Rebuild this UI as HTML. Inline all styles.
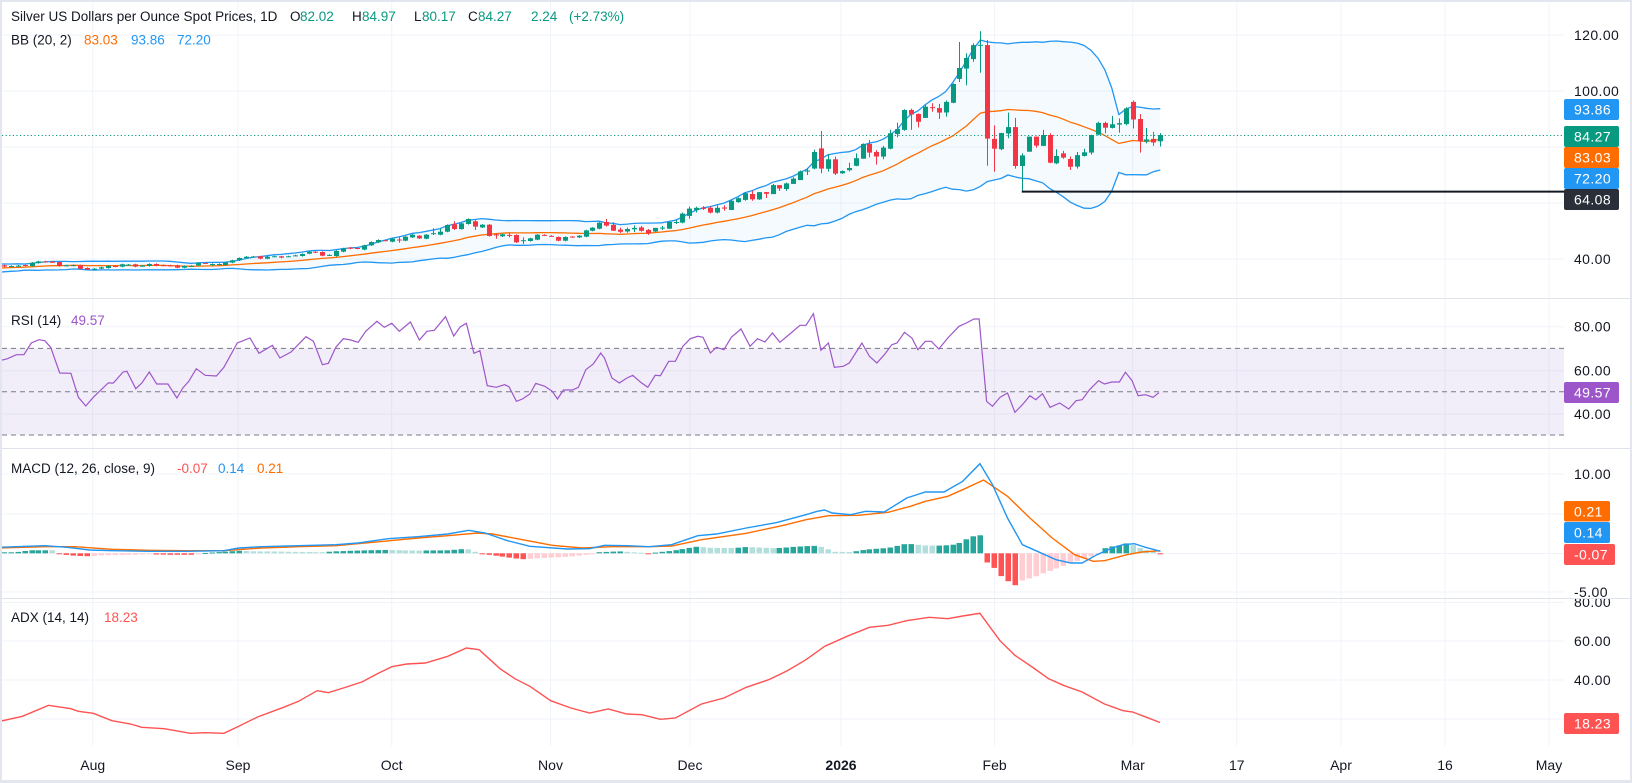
<!DOCTYPE html>
<html><head><meta charset="utf-8">
<style>
html,body{margin:0;padding:0;}
body{width:1632px;height:783px;overflow:hidden;background:#e3e6ee;}
svg{position:absolute;left:0;top:0;}
.t{font-family:"Liberation Sans",Arial,sans-serif;font-size:14px;fill:#131722;}
.lg{font-family:"Liberation Sans",Arial,sans-serif;font-size:13.5px;fill:#131722;}
.ax{font-family:"Liberation Sans",Arial,sans-serif;font-size:14px;fill:#131722;letter-spacing:0.4px;}
.bw{font-family:"Liberation Sans",Arial,sans-serif;font-size:14px;fill:#ffffff;letter-spacing:0.4px;}
</style></head><body>
<svg width="1632" height="783" viewBox="0 0 1632 783">
<defs>
<clipPath id="c1"><rect x="2" y="2" width="1562" height="296"/></clipPath>
<clipPath id="c2"><rect x="2" y="298" width="1562" height="150"/></clipPath>
<clipPath id="c3"><rect x="2" y="448" width="1562" height="150"/></clipPath>
<clipPath id="c4"><rect x="2" y="598" width="1562" height="148"/></clipPath>
<clipPath id="c5"><rect x="1564" y="599" width="66" height="40"/></clipPath>
</defs>
<rect x="2" y="2" width="1628" height="778" fill="#ffffff"/>
<g stroke="#f0f3fa" stroke-width="1">
<line x1="92.7" y1="2" x2="92.7" y2="746"/>
<line x1="238" y1="2" x2="238" y2="746"/>
<line x1="391.7" y1="2" x2="391.7" y2="746"/>
<line x1="550.5" y1="2" x2="550.5" y2="746"/>
<line x1="690" y1="2" x2="690" y2="746"/>
<line x1="841" y1="2" x2="841" y2="746"/>
<line x1="994.6" y1="2" x2="994.6" y2="746"/>
<line x1="1132.7" y1="2" x2="1132.7" y2="746"/>
<line x1="1236.8" y1="2" x2="1236.8" y2="746"/>
<line x1="1341" y1="2" x2="1341" y2="746"/>
<line x1="1445" y1="2" x2="1445" y2="746"/>
<line x1="1549" y1="2" x2="1549" y2="746"/>
</g>
<g stroke="#f0f3fa" stroke-width="1">
<line x1="2" y1="35" x2="1564" y2="35"/>
<line x1="2" y1="91" x2="1564" y2="91"/>
<line x1="2" y1="147" x2="1564" y2="147"/>
<line x1="2" y1="203" x2="1564" y2="203"/>
<line x1="2" y1="259" x2="1564" y2="259"/>
<line x1="2" y1="326.7" x2="1564" y2="326.7"/>
<line x1="2" y1="370.7" x2="1564" y2="370.7"/>
<line x1="2" y1="414" x2="1564" y2="414"/>
<line x1="2" y1="474" x2="1564" y2="474"/>
<line x1="2" y1="514" x2="1564" y2="514"/>
<line x1="2" y1="553.5" x2="1564" y2="553.5"/>
<line x1="2" y1="592" x2="1564" y2="592"/>
<line x1="2" y1="602.5" x2="1564" y2="602.5"/>
<line x1="2" y1="641" x2="1564" y2="641"/>
<line x1="2" y1="680" x2="1564" y2="680"/>
<line x1="2" y1="719" x2="1564" y2="719"/>
</g>
<rect x="2" y="348.4" width="1562" height="86.6" fill="#7E57C2" fill-opacity="0.1"/>
<g stroke="#787B86" stroke-width="1" stroke-dasharray="5,4">
<line x1="2" y1="348.4" x2="1564" y2="348.4"/>
<line x1="2" y1="391.7" x2="1564" y2="391.7"/>
<line x1="2" y1="435" x2="1564" y2="435"/>
</g>
<g stroke="#e0e3eb" stroke-width="1">
<line x1="2" y1="298.5" x2="1630" y2="298.5"/>
<line x1="2" y1="448.5" x2="1630" y2="448.5"/>
<line x1="2" y1="598.5" x2="1630" y2="598.5"/>
</g>
<g id="g1" clip-path="url(#c1)"></g>
<g id="g2" clip-path="url(#c2)"></g>
<g id="g3" clip-path="url(#c3)"></g>
<g id="g4" clip-path="url(#c4)"></g>

<text class="lg" x="11" y="21">Silver US Dollars per Ounce Spot Prices, 1D</text>
<text class="lg" x="290" y="21">O</text><text class="lg" x="300" y="21" style="fill:#089981">82.02</text>
<text class="lg" x="352" y="21">H</text><text class="lg" x="362" y="21" style="fill:#089981">84.97</text>
<text class="lg" x="414" y="21">L</text><text class="lg" x="422" y="21" style="fill:#089981">80.17</text>
<text class="lg" x="468" y="21">C</text><text class="lg" x="478" y="21" style="fill:#089981">84.27</text>
<text class="lg" x="531" y="21" style="fill:#089981">2.24</text>
<text class="lg" x="569" y="21" style="fill:#089981">(+2.73%)</text>
<text class="lg" x="11" y="44.5">BB (20, 2)</text>
<text class="lg" x="84" y="44.5" style="fill:#FF6D00">83.03</text>
<text class="lg" x="131" y="44.5" style="fill:#2196F3">93.86</text>
<text class="lg" x="177" y="44.5" style="fill:#2196F3">72.20</text>

<text class="lg" x="11" y="325">RSI (14)</text>
<text class="lg" x="71" y="325" style="fill:#9D56C9">49.57</text>

<text class="lg" x="11" y="473">MACD (12, 26, close, 9)</text>
<text class="lg" x="177" y="473" style="fill:#FF5252">-0.07</text>
<text class="lg" x="218" y="473" style="fill:#2196F3">0.14</text>
<text class="lg" x="257" y="473" style="fill:#FF6D00">0.21</text>

<text class="lg" x="11" y="622">ADX (14, 14)</text>
<text class="lg" x="104" y="622" style="fill:#FF5252">18.23</text>

<text class="ax" x="1574" y="40">120.00</text>
<text class="ax" x="1574" y="96">100.00</text>
<text class="ax" x="1574" y="264">40.00</text>
<text class="ax" x="1574" y="331.7">80.00</text>
<text class="ax" x="1574" y="375.7">60.00</text>
<text class="ax" x="1574" y="419">40.00</text>
<text class="ax" x="1574" y="479">10.00</text>
<text class="ax" x="1574" y="597">-5.00</text>
<g clip-path="url(#c5)"><text class="ax" x="1574" y="607">80.00</text></g>
<text class="ax" x="1574" y="646">60.00</text>
<text class="ax" x="1574" y="685">40.00</text>

<rect x="1564" y="99" width="55" height="21" rx="2" fill="#2196F3"/><text class="bw" x="1574" y="114.5">93.86</text>
<rect x="1564" y="126" width="55" height="21" rx="2" fill="#089981"/><text class="bw" x="1574" y="141.5">84.27</text>
<rect x="1564" y="147" width="55" height="21" rx="2" fill="#FF6D00"/><text class="bw" x="1574" y="162.5">83.03</text>
<rect x="1564" y="168" width="55" height="21" rx="2" fill="#2196F3"/><text class="bw" x="1574" y="183.5">72.20</text>
<rect x="1564" y="189" width="55" height="21" rx="2" fill="#2A2E39"/><text class="bw" x="1574" y="204.5">64.08</text>
<rect x="1564" y="382" width="55" height="21" rx="2" fill="#9D56C9"/><text class="bw" x="1574" y="397.5">49.57</text>
<rect x="1564" y="501" width="46" height="20.5" rx="2" fill="#FF6D00"/><text class="bw" x="1574" y="516.3">0.21</text>
<rect x="1564" y="522" width="46" height="21" rx="2" fill="#2196F3"/><text class="bw" x="1574" y="537.5">0.14</text>
<rect x="1564" y="544" width="51" height="21" rx="2" fill="#FF5252"/><text class="bw" x="1574" y="559.5">-0.07</text>
<rect x="1564" y="713" width="55" height="21" rx="2" fill="#FF5252"/><text class="bw" x="1574" y="728.5">18.23</text>

<g>
<text x="92.7" y="770" text-anchor="middle" class="t">Aug</text>
<text x="238" y="770" text-anchor="middle" class="t">Sep</text>
<text x="391.7" y="770" text-anchor="middle" class="t">Oct</text>
<text x="550.5" y="770" text-anchor="middle" class="t">Nov</text>
<text x="690" y="770" text-anchor="middle" class="t">Dec</text>
<text x="841" y="770" text-anchor="middle" class="t" style="font-weight:bold">2026</text>
<text x="994.6" y="770" text-anchor="middle" class="t">Feb</text>
<text x="1132.7" y="770" text-anchor="middle" class="t">Mar</text>
<text x="1236.8" y="770" text-anchor="middle" class="t">17</text>
<text x="1341" y="770" text-anchor="middle" class="t">Apr</text>
<text x="1445" y="770" text-anchor="middle" class="t">16</text>
<text x="1549" y="770" text-anchor="middle" class="t">May</text>
</g>
</svg>
<script>
(function(){
const N=168,X0=1160.3,DX=6.925;
const bx=i=>X0-(N-1-i)*DX;
const py=p=>371-2.8*p;
const D=[
[37.74,37.26],[37.3,37.5],[37.5,37.62],[37.85,37.62],[37.5,38.69],[38.57,39.16],[39.16,38.92],[39.0,38.85],[38.92,37.5],[37.6,37.74],
[37.7,37.8],[37.74,36.54],[36.78,36.19],[36.4,36.54],[36.54,37.02],[36.78,37.5],[37.5,37.26],[37.26,38.09],[37.9,38.0],[38.09,37.26],
[37.5,37.62],[37.5,38.2],[38.2,37.62],[37.8,37.74],[37.7,37.62],[37.74,36.9],[36.9,37.5],[37.45,37.55],[37.74,38.57],[38.6,38.5],
[37.8,38.2],[38.0,38.2],[37.85,38.8],[38.69,39.52],[39.52,40.35],[40.35,40.83],[40.8,40.9],[40.95,40.12],[40.12,40.83],[40.9,40.95],
[40.95,40.47],[40.9,40.95],[41.2,41.3],[41.07,41.78],[41.9,42.61],[42.61,42.38],[42.5,41.19],[41.35,41.45],[41.07,42.85],[42.61,43.8],
[44.04,43.69],[43.92,43.69],[43.33,44.88],[44.88,46.07],[45.95,46.78],[46.7,46.6],[46.19,47.26],[46.95,46.85,47.73,45.83],[46.54,47.97],[47.73,48.69],
[48.33,47.38],[47.26,48.69],[49.1,49.2,50.95,48.57],[48.69,49.76,50.95,48.5],[49.76,52.14],[52.38,50.71,53.45,50.35],[50.71,52.73],[52.5,54.28],[53.45,51.54,53.9,50.35],[51.3,52.26],
[52.26,48.21],[48.75,48.6,49.16,47.26],[48.09,48.81],[48.6,48.5,49.16,47.73],[48.57,45.95],[46.6,46.7,47.73,45.35],[46.42,47.38],[46.9,48.69],[48.6,48.5],[48.3,48.2],
[47.85,46.54],[46.54,47.85],[48.0,47.9],[47.73,48.33],[47.97,50.23],[50.12,51.19],[50.83,52.97],
[53.2,51.9,54.3,51.6],[52.2,50.1,53.1,50.0],[50.5,49.7,51.2,49.3],[49.8,50.7,51.2,49.4],[50.6,51.1,52.0,49.6],[51.3,50.1,51.8,49.8],[50.4,49.2,50.7,48.6],[49.8,51.1,51.1,49.6],[50.9,51.2,51.8,50.4],[50.8,53.2,53.5,50.7],
[53.0,53.2,53.9,52.5],[53.0,56.2,56.6,52.7],[55.4,58.0,58.7,54.4],[57.5,58.3,58.7,56.6],[58.4,57.9,58.9,57.5],[58.3,56.6,58.7,56.3],[56.6,58.3,59.2,56.3],[58.4,58.0,59.2,57.2],[57.5,60.8,61.1,57.5],[60.3,61.7,62.0,60.1],
[61.1,63.5,63.9,60.8],[63.2,61.3,64.4,60.8],[61.3,63.9,63.9,61.1],[63.9,63.3,63.9,61.8],[63.2,66.4,66.8,63.2],[66.4,65.2,66.4,64.3],[65.0,67.0,67.3,64.4],[66.8,68.7,69.2,66.8],[68.2,71.3,71.6,68.2],[71.2,71.6,72.5,70.0],
[72.3,78.2,79.0,72.0],[79.5,72.3,85.7,70.6],[72.2,75.6,77.5,71.2],[75.6,70.5,76.6,70.0],[70.6,71.4,71.6,70.4],[71.7,72.5,74.4,71.3],[73.3,76.0,77.7,73.1],
[75.8,81.1,81.3,75.8],[81.1,78.0,82.5,76.3],[78.2,76.6,78.9,73.7],[76.6,79.8,80.4,75.6],[79.4,84.9,86.1,79.2],[84.6,86.4,88.7,83.5],[86.1,93.2,93.5,85.8],[93.2,91.6,93.7,86.1],[91.8,89.0,92.0,87.0],[90.4,94.4,95.0,90.4],
[94.2,94.0,95.6,92.6],[93.9,92.3,95.4,90.0],[92.3,96.1,96.6,90.8],[95.8,102.5,102.7,95.6],[104.3,108.2,117.5,103.2],[108.0,111.8,113.5,102.0],[111.4,116.4,117.0,110.4],[116.3,116.5,121.4,106.5],[116.4,83.0,118.2,73.3],[82.9,79.4,87.7,71.2],
[79.2,85.0,85.1,78.9],[84.8,87.1,92.3,83.1],[87.1,73.2,90.4,72.3],[73.2,77.0,77.7,64.08],[78.3,83.7,83.7,78.3],[83.7,80.5,83.7,79.7],[80.4,84.3,86.1,80.4],[84.3,74.4,84.9,74.2],[74.2,76.8,79.2,73.9],[77.7,76.2,78.6,75.8],
[75.7,72.9,76.6,71.8],[73.0,77.1,78.2,72.3],[76.8,78.1,79.4,76.6],[78.0,84.3,84.4,77.3],[84.4,88.6,89.0,84.2],[88.6,86.9,89.0,84.9],[86.8,88.1,91.1,86.6],[88.0,88.5,90.2,85.1],[88.2,93.8,94.2,87.7],[96.1,89.8,96.6,86.6],
[90.0,82.0,91.8,78.0],[82.0,82.7,86.8,81.3],[82.9,81.6,85.4,80.4],[82.02,84.27,84.97,80.17]
];
const f=v=>v.toFixed(1);
const pts=a=>a.map(p=>f(p[0])+','+f(p[1])).join(' ');
let s='';
const pre=[35.21,35.62,36.02,35.48,36.16,36.56,36.02,36.84,37.24,36.7,36.29,36.97,37.51,37.11,36.56,37.38,37.78,37.38,37.92,37.65];
const cl=pre.concat(D.map(d=>d[1]));
let up=[],lo=[],mid=[];
for(let k=19;k<cl.length;k++){
  const w=cl.slice(k-19,k+1);
  const m=w.reduce((a,b)=>a+b,0)/20;
  const v=w.reduce((a,b)=>a+(b-m)*(b-m),0)/20;
  const sd=Math.sqrt(v);
  const x=bx(k-20);
  up.push([x,py(m+2*sd)]);lo.push([x,py(m-2*sd)]);mid.push([x,py(m)]);
}
s+='<polygon points="'+pts(up)+' '+pts(lo.slice().reverse())+'" fill="#2196F3" fill-opacity="0.05"/>';
s+='<polyline points="'+pts(up)+'" fill="none" stroke="#2196F3" stroke-width="1.3"/>';
s+='<polyline points="'+pts(lo)+'" fill="none" stroke="#2196F3" stroke-width="1.3"/>';
s+='<polyline points="'+pts(mid)+'" fill="none" stroke="#FF6D00" stroke-width="1.3"/>';
s+='<line x1="2" y1="135.5" x2="1564" y2="135.5" stroke="#089981" stroke-width="1" stroke-dasharray="1.2,2.4"/>';
D.forEach((d,i)=>{
  const o=d[0],c=d[1];
  const h=d.length>2?d[2]:Math.max(o,c)+0.22;
  const l=d.length>3?d[3]:Math.min(o,c)-0.22;
  const x=bx(i);
  const col=c>=o?'#089981':'#F23645';
  const yt=py(Math.max(o,c)),yb=py(Math.min(o,c));
  const xr=Math.round(x);
  s+='<line x1="'+(xr+0.5)+'" y1="'+f(py(h))+'" x2="'+(xr+0.5)+'" y2="'+f(py(l))+'" stroke="'+col+'" stroke-width="1"/>';
  s+='<rect x="'+(xr-2)+'" y="'+f(yt)+'" width="5" height="'+f(Math.max(1,yb-yt))+'" fill="'+col+'"/>';
});
s+='<line x1="'+f(bx(147))+'" y1="191.6" x2="1564" y2="191.6" stroke="#131722" stroke-width="2"/>';
document.getElementById('g1').innerHTML=s;

const R=[[0,188],[10,182],[22,170],[32,170],[42,135],[52,125],[60,128],[68,148],[80,225],[95,226],[105,298],[115,324],[125,298],[145,255],[152,255],[165,222],[170,220],[182,272],[190,255],[200,222],[210,258],[225,258],[237,300],[245,270],[253,250],[263,212],[275,232],[290,234],[300,208],[318,135],[335,120],[347,166],[365,142],[375,180],[390,162],[410,116],[420,130],[432,200],[440,196],[450,148],[460,122],[470,126],[480,133],[490,100],[505,70],[515,88],[525,76],[535,100],[550,72],[562,126],[572,100],[582,97],[597,56],[608,114],[617,86],[625,76],[635,166],[643,158],[653,263],[665,268],[676,260],[682,266],[692,310],[700,303],[710,288],[718,256],[730,265],[740,280],[747,303],[755,276],[767,276],[775,268],[785,215],[795,198],[805,165],[810,180],[820,240],[830,255],[840,240],[848,232],[858,252],[868,268],[878,232],[885,233],[896,190],[905,190],[915,145],[925,122],[935,115],[942,118],[952,165],[960,148],[970,155],[980,118],[993,93],[1005,145],[1015,122],[1025,132],[1035,105],[1045,133],[1060,105],[1072,82],[1080,82],[1090,47],[1100,157],[1110,135],[1118,208],[1130,205],[1138,195],[1155,135],[1165,175],[1175,195],[1185,170],[1195,140],[1202,135],[1212,103],[1222,120],[1230,155],[1240,130],[1248,130],[1258,153],[1270,120],[1285,85],[1295,75],[1305,63],[1312,63],[1322,310],[1330,325],[1340,298],[1350,285],[1360,343],[1370,320],[1380,293],[1388,305],[1397,287],[1407,328],[1420,315],[1432,333],[1442,308],[1450,305],[1460,275],[1472,248],[1480,258],[1490,252],[1500,252],[1508,223],[1517,248],[1525,293],[1535,290],[1545,298],[1553,284]];
document.getElementById('g2').innerHTML='<polyline points="'+pts(R.map(p=>[p[0]/1.34,298+p[1]/3]))+'" fill="none" stroke="#9D56C9" stroke-width="1.2"/>';

const B=[[0,298],[60,293],[90,298],[120,306],[150,308],[200,310],[250,310],[300,308],[320,300],[350,296],[400,293],[450,290],[480,285],[520,272],[560,266],[600,258],[628,247],[650,255],[680,278],[710,295],[760,303],[790,302],[810,292],[840,293],[870,296],[900,290],[935,263],[960,258],[1000,240],[1040,224],[1080,200],[1095,190],[1105,186],[1115,195],[1140,200],[1160,190],[1185,192],[1215,150],[1240,132],[1265,132],[1290,100],[1313,47],[1330,110],[1350,210],[1370,290],[1390,310],[1415,335],[1435,345],[1450,345],[1470,320],[1490,300],[1505,290],[1520,287],[1535,298],[1555,310]];
const O=[[0,300],[60,296],[100,296],[150,304],[200,307],[250,308],[300,308],[350,300],[400,296],[450,293],[500,283],[560,270],[600,263],[640,255],[660,258],[700,275],[740,292],[780,300],[820,296],[870,296],[900,294],[940,275],[1000,256],[1050,232],[1080,215],[1110,203],[1150,202],[1190,193],[1220,175],[1240,160],[1270,145],[1290,125],[1318,96],[1350,145],[1380,210],[1410,270],[1440,320],[1465,340],[1480,338],[1510,320],[1530,312],[1555,308]];
const HC=[[0,1],[20,1],[40,3],[70,3],[80,-1],[100,-2.5],[120,-3],[135,-2],[180,-1.5],[200,-1],[230,-1.5],[260,-1.5],[275,0.5],[300,1.5],[320,2.5],[340,2],[400,1.5],[430,1],[450,2],[490,3],[520,3.3],[560,2.7],[600,3],[625,4.5],[640,0.5],[655,-1.5],[680,-4],[700,-6],[720,-5],[760,-3.5],[785,-1.5],[800,1],[830,2],[860,0.5],[868,-0.5],[880,1],[900,2.5],[935,6.7],[950,5.5],[985,5.3],[1000,6.3],[1040,5],[1065,6.5],[1090,7.5],[1105,6],[1115,1.5],[1140,1.3],[1160,3.7],[1190,5.3],[1215,9.7],[1240,7.7],[1262,7.7],[1276,8.5],[1285,10],[1295,14],[1304,17],[1313.6,18],[1323,-9.7],[1332.3,-14.7],[1341.6,-23],[1350.9,-28],[1360.2,-32],[1369.5,-27],[1378.8,-25],[1388,-23],[1397.4,-20],[1406.7,-17.5],[1416,-15],[1425.3,-12.5],[1434.6,-10],[1444,-7.5],[1453.3,-5],[1462.6,-3],[1471.9,-1],[1481.2,5.5],[1490.5,7],[1499.8,8],[1509,10],[1518.4,8],[1527.7,5],[1537,3],[1546.3,1.5],[1555.6,-0.6]];
const interp=(arr,z)=>{if(z<=arr[0][0])return arr[0][1];for(let j=1;j<arr.length;j++){if(z<=arr[j][0]){const a=arr[j-1],b=arr[j];return a[1]+(b[1]-a[1])*(z-a[0])/(b[0]-a[0]);}}return arr[arr.length-1][1];};
let m='';let prev=0;
for(let i=0;i<N;i++){
  const x=bx(i);const h=interp(HC,x*1.34);
  let col;
  if(h>=0)col=h>=prev?'#26A69A':'#B2DFDB';else col=h<=prev?'#FF5252':'#FFCDD2';
  prev=h;
  const y0=553.3;const top=h>=0?y0-h:y0;
  const xr=Math.round(x);
  m+='<rect x="'+(xr-2.5)+'" y="'+f(top)+'" width="5.5" height="'+f(Math.max(1,Math.abs(h)))+'" fill="'+col+'"/>';
}
m+='<polyline points="'+pts(O.map(p=>[p[0]/1.34,448+p[1]/3]))+'" fill="none" stroke="#FF6D00" stroke-width="1.4"/>';
m+='<polyline points="'+pts(B.map(p=>[p[0]/1.34,448+p[1]/3]))+'" fill="none" stroke="#2196F3" stroke-width="1.4"/>';
document.getElementById('g3').innerHTML=m;

const A=[[0,721.3],[22.4,716.3],[48.5,705.3],[70.9,708.7],[78.4,711.3],[93.3,713.3],[111.9,720.7],[130.6,724],[141.8,727.3],[164.2,728.7],[190.3,733.3],[205.2,732.7],[223.9,733.3],[238.8,726.3],[257.5,717],[283.6,707.3],[298.5,701.3],[317.2,690.7],[328.4,692.7],[343.3,688],[361.9,682],[376.9,674],[391.8,666.7],[406.7,664],[425.4,663],[447.8,656.3],[466.4,648],[479.1,649.7],[500,668.7],[514.9,678.7],[529.9,686.3],[550.7,700.7],[570.9,708],[589.6,713],[608.2,709],[626.9,714],[641.8,714.7],[660.4,719.3],[675.4,718],[701.5,704],[723.9,698],[746.3,687.3],[768.7,679.7],[787.3,670.7],[806,659.7],[824.6,646.3],[847,636.3],[869.4,627.3],[888.1,625.3],[906.7,620.7],[929.1,617.3],[947.8,618.7],[962.7,616],[979.9,613.3],[1000,640.7],[1014.9,655.3],[1033.6,668],[1048.5,678.7],[1063.4,685.3],[1082.1,692],[1104.5,704],[1123.1,710.7],[1132.8,712],[1160,722.5]];
document.getElementById('g4').innerHTML='<polyline points="'+pts(A)+'" fill="none" stroke="#FF5252" stroke-width="1.4"/>';
})();
</script>
</body></html>
